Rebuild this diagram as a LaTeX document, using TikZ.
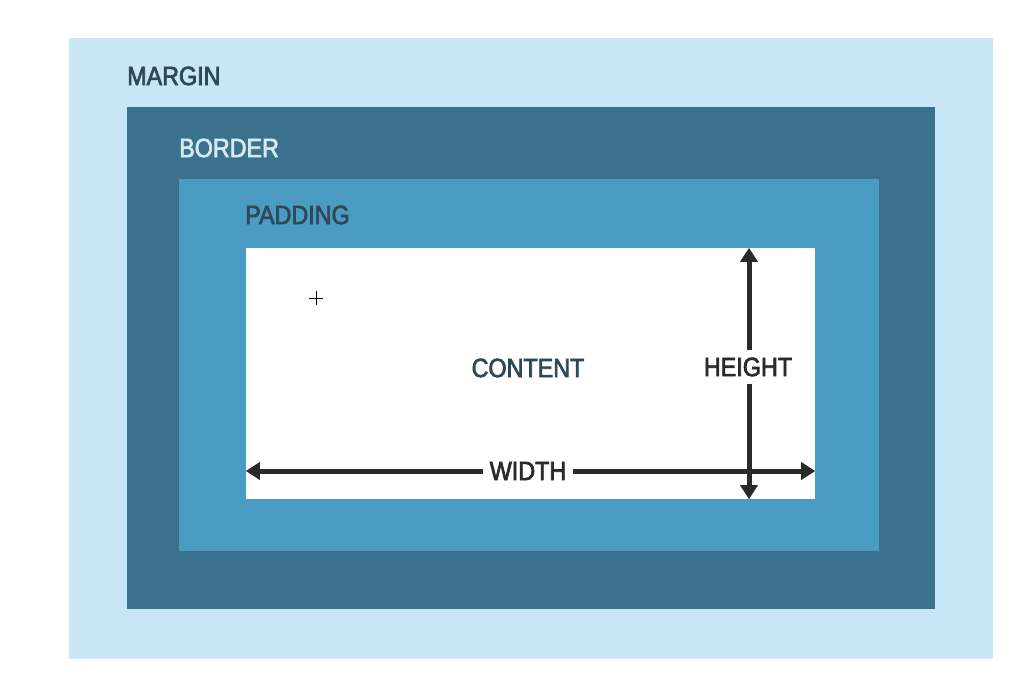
\documentclass[tikz,border=0pt]{standalone}
\usepackage{fontspec}
\setmainfont[FakeStretch=0.88,FakeBold=2.6]{Liberation Sans}
\usetikzlibrary{arrows.meta}
\definecolor{marginc}{HTML}{C8E6F6}
\definecolor{borderc}{HTML}{3A718C}
\definecolor{paddingc}{HTML}{4A9CC3}
\definecolor{labdark}{HTML}{2E4858}
\definecolor{lablight}{HTML}{D6E9F3}
\definecolor{arrowc}{HTML}{2A2A2A}
\begin{document}
\begin{tikzpicture}[x=1pt,y=-1pt,
  lab/.style={inner sep=0pt, font=\fontsize{26.5}{26.5}\selectfont},
  dim/.style={draw=arrowc, line width=5pt, -{Triangle[length=14pt,width=17pt]}}]
  \fill[white] (0,0) rectangle (1020,696);
  \useasboundingbox (0,0) rectangle (1020,696);
  % nested boxes
  \fill[marginc] (69,38) rectangle (993,659);
  \fill[borderc] (127,107) rectangle (935,609);
  \fill[paddingc] (179,179) rectangle (879,551);
  \fill[white] (246,248) rectangle (815,499);
  \node[inner sep=0pt, minimum width=569pt, minimum height=251pt] (content) at (530.5,373.5) {};
  % labels
  \node[lab, anchor=west, text=labdark] (margin) at (127,76) {MARGIN};
  \node[lab, anchor=west, text=lablight] (border) at (179,148) {BORDER};
  \node[lab, anchor=west, text=labdark] (padding) at (245,215) {PADDING};
  \node[lab, text=labdark] (ctext) at (528,368) {CONTENT};
  \node[lab, text=arrowc, inner xsep=6pt, inner ysep=7pt] (height) at (748,367) {HEIGHT};
  \node[lab, text=arrowc, inner xsep=7pt] (width) at (528,471) {WIDTH};
  % dimension arrows
  \coordinate (wl) at (content.west |- width);
  \coordinate (wr) at (content.east |- width);
  \coordinate (ht) at (content.north -| 749,0);
  \coordinate (hb) at (content.south -| 749,0);
  \draw[dim] (width.west) -- (wl);
  \draw[dim] (width.east) -- (wr);
  \draw[dim] (749,0 |- height.north) -- (ht);
  \draw[dim] (749,0 |- height.south) -- (hb);
  % cursor cross
  \coordinate (cur) at (316,298);
  \draw[black, line width=0.8pt] ([xshift=-7pt]cur) -- ([xshift=7pt]cur)
    ([yshift=-7pt]cur) -- ([yshift=7pt]cur);
\end{tikzpicture}
\end{document}
